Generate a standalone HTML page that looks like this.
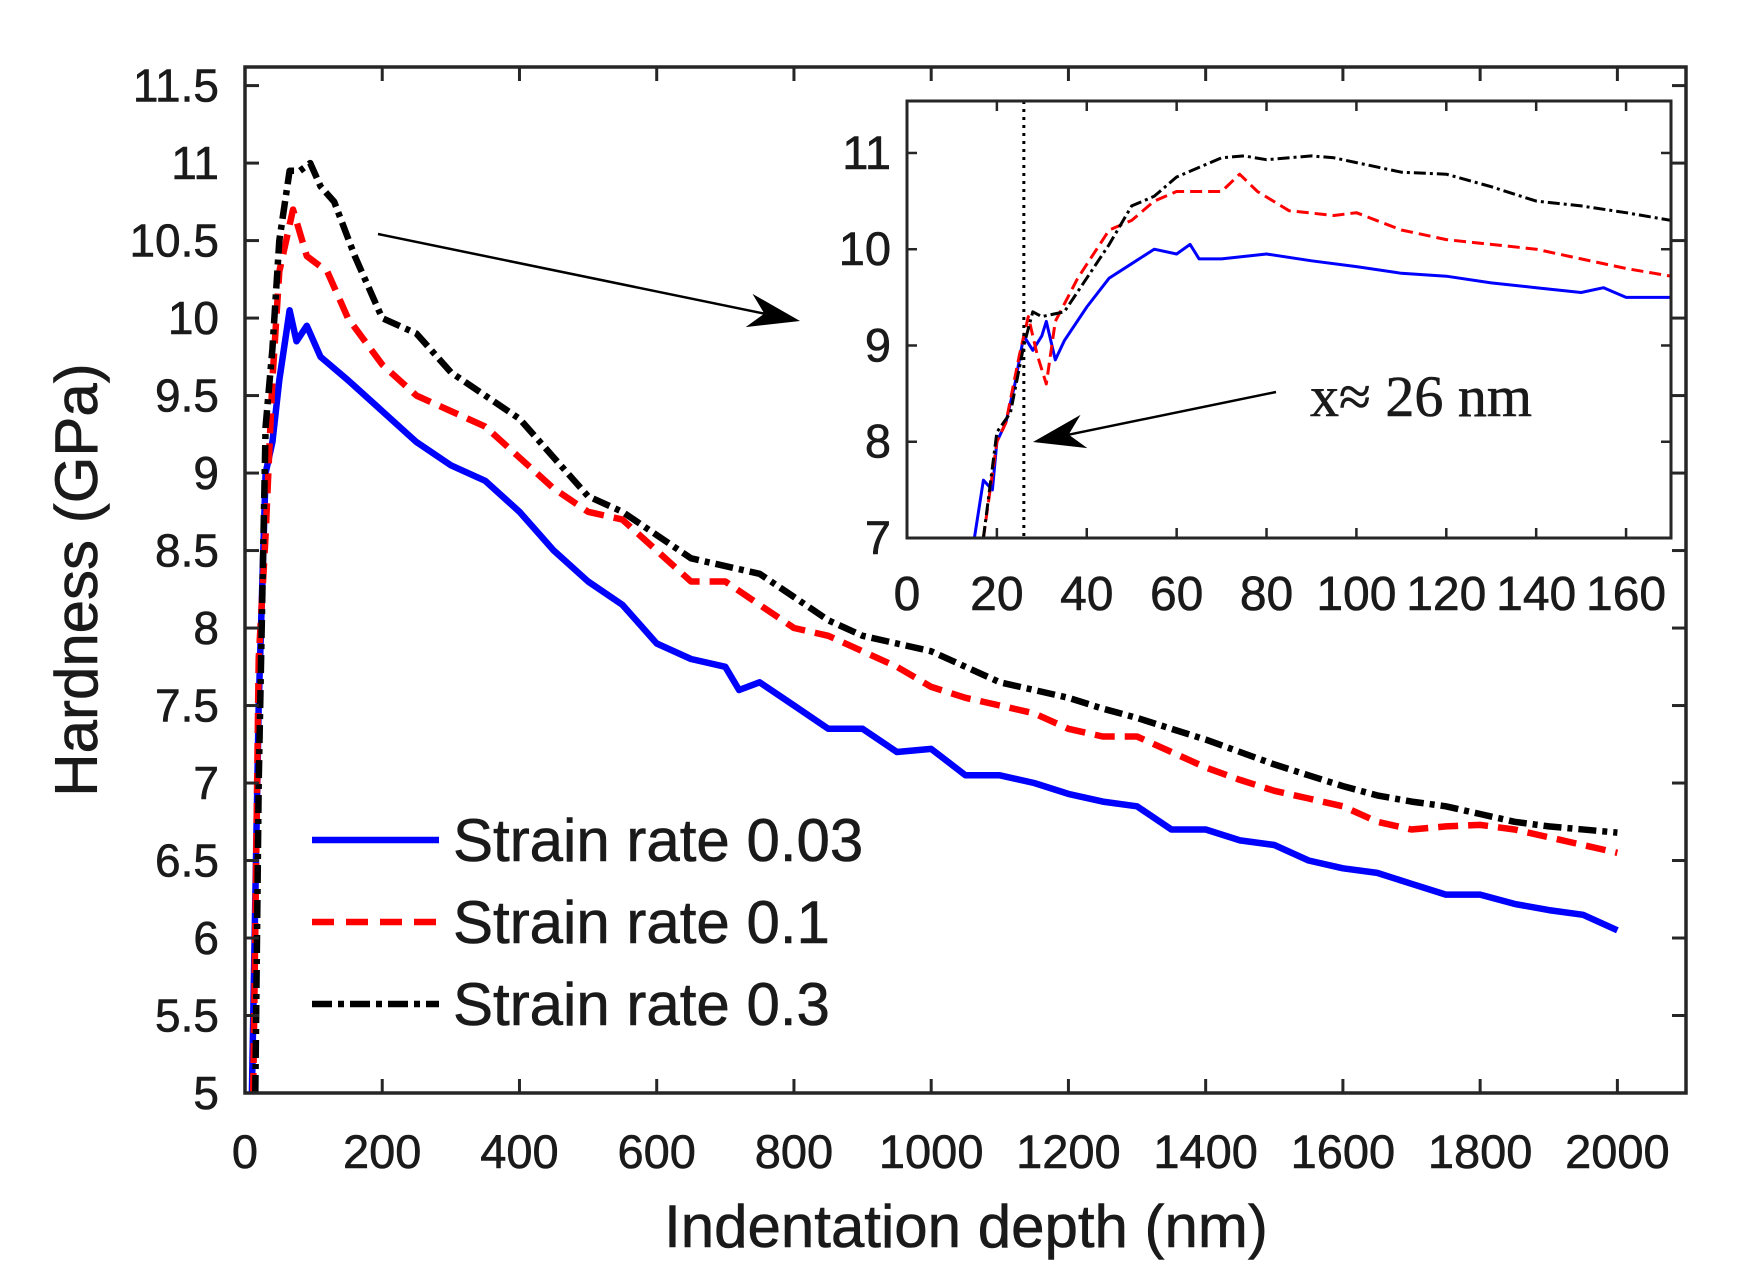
<!DOCTYPE html>
<html><head><meta charset="utf-8"><style>
html,body{margin:0;padding:0;background:#fff}
svg{display:block}
text{font-family:"Liberation Sans",Arial,sans-serif;fill:#1a1a1a;stroke:#1a1a1a;stroke-width:0.6}
</style></head><body>
<svg id="chart" width="1764" height="1279" viewBox="0 0 1764 1279" xmlns="http://www.w3.org/2000/svg">
<g id="main"></g>
<g id="inset"></g>
</svg>
<script>
const mainXTicks=[0,200,400,600,800,1000,1200,1400,1600,1800,2000];
const mainYTicks=[5,5.5,6,6.5,7,7.5,8,8.5,9,9.5,10,10.5,11,11.5];
const mainYTickLabels=["5","5.5","6","6.5","7","7.5","8","8.5","9","9.5","10","10.5","11","11.5"];
const blueX=[10,20,30,40,50,60,65,75,90,110,150,200,250,300,350,400,450,500,550,600,650,700,720,750,800,850,900,950,1000,1050,1100,1150,1200,1250,1300,1350,1400,1450,1500,1550,1600,1650,1700,1750,1800,1850,1900,1950,2000];
const blueY=[5,7.5,9,9.2,9.6,9.9,10.05,9.85,9.95,9.75,9.6,9.4,9.2,9.05,8.95,8.75,8.5,8.3,8.15,7.9,7.8,7.75,7.6,7.65,7.5,7.35,7.35,7.2,7.22,7.05,7.05,7.0,6.93,6.88,6.85,6.7,6.7,6.63,6.6,6.5,6.45,6.42,6.35,6.28,6.28,6.22,6.18,6.15,6.05];
const redX=[12,20,30,40,50,70,90,120,150,200,250,300,350,400,450,500,550,600,650,700,750,800,850,900,950,1000,1050,1100,1150,1200,1250,1300,1350,1400,1450,1500,1550,1600,1650,1700,1750,1800,1850,1900,2000];
const redY=[5,7.8,8.6,9.6,10.3,10.7,10.4,10.3,10.0,9.7,9.5,9.4,9.3,9.1,8.9,8.75,8.7,8.5,8.3,8.3,8.15,8.0,7.95,7.85,7.75,7.62,7.55,7.5,7.45,7.35,7.3,7.3,7.2,7.1,7.02,6.95,6.9,6.85,6.75,6.7,6.72,6.73,6.7,6.65,6.55];
const blackX=[15,20,30,40,50,65,80,95,110,130,160,200,250,300,350,400,450,500,550,600,650,700,750,800,850,900,950,1000,1050,1100,1150,1200,1250,1300,1350,1400,1450,1500,1550,1600,1650,1700,1750,1800,1850,1900,2000];
const blackY=[5,7,9.3,9.8,10.5,10.95,10.95,11.0,10.85,10.75,10.4,10.0,9.9,9.65,9.5,9.35,9.1,8.85,8.75,8.6,8.45,8.4,8.35,8.2,8.05,7.95,7.9,7.85,7.75,7.65,7.6,7.55,7.48,7.42,7.35,7.28,7.2,7.12,7.05,6.98,6.92,6.88,6.85,6.8,6.75,6.72,6.68];
const insetXTicks=[0,20,40,60,80,100,120,140,160];
const insetYTicks=[7,8,9,10,11];
const iBlueX=[15,17,19,20,22,24,26,28,30,31,33,35,40,45,50,55,60,63,65,70,80,90,100,110,120,130,140,150,155,160,170];
const iBlueY=[7,7.6,7.5,8.0,8.2,8.6,9.1,8.95,9.1,9.25,8.85,9.05,9.4,9.7,9.85,10.0,9.95,10.05,9.9,9.9,9.95,9.88,9.82,9.75,9.72,9.65,9.6,9.55,9.6,9.5,9.5];
const iRedX=[17,20,22,25,27,29,31,33,38,45,50,55,60,65,70,74,78,85,95,100,110,120,130,140,150,160,170];
const iRedY=[7,8.0,8.2,8.9,9.3,8.9,8.6,9.25,9.7,10.2,10.3,10.5,10.6,10.6,10.6,10.78,10.6,10.4,10.35,10.38,10.2,10.1,10.05,10.0,9.9,9.8,9.72];
const iBlackX=[17,20,23,26,28,30,35,40,45,50,55,60,65,70,75,80,90,95,100,110,120,130,140,150,160,170];
const iBlackY=[7,8.1,8.3,9.0,9.35,9.3,9.35,9.7,10.05,10.45,10.55,10.75,10.85,10.95,10.97,10.93,10.97,10.95,10.9,10.8,10.78,10.65,10.5,10.45,10.38,10.3];
const markerX=26;

const NS="http://www.w3.org/2000/svg";
function mk(tag,attrs,parent,txt){const e=document.createElementNS(NS,tag);for(const k in attrs)e.setAttribute(k,attrs[k]);if(txt!==undefined)e.textContent=txt;parent.appendChild(e);return e;}

const M={l:245,r:1686,t:67,b:1093,x0:0,x1:2100,y0:5,y1:11.62};
const mx=v=>M.l+(v-M.x0)/(M.x1-M.x0)*(M.r-M.l);
const my=v=>M.b-(v-M.y0)/(M.y1-M.y0)*(M.b-M.t);
const I={l:907,r:1671,t:101,b:538,x0:0,x1:170,y0:7,y1:11.54};
const ix=v=>I.l+(v-I.x0)/(I.x1-I.x0)*(I.r-I.l);
const iy=v=>I.b-(v-I.y0)/(I.y1-I.y0)*(I.b-I.t);
const gM=document.getElementById('main'), gI=document.getElementById('inset');

function path(xs,ys,fx,fy,stroke,w,dash,g,name){
  const d=xs.map((x,i)=>(i?'L':'M')+fx(x).toFixed(1)+','+fy(ys[i]).toFixed(1)).join('');
  const p=mk('path',{d:d,fill:'none',stroke:stroke,'stroke-width':w,'stroke-linejoin':'round'},g);
  if(dash)p.setAttribute('stroke-dasharray',dash);
  
  
}

const defs=mk('defs',{},gM);
const cp=mk('clipPath',{id:'cm'},defs);mk('rect',{x:M.l,y:M.t,width:M.r-M.l,height:M.b-M.t},cp);
const cp2=mk('clipPath',{id:'ci'},defs);mk('rect',{x:I.l,y:I.t,width:I.r-I.l,height:I.b-I.t},cp2);
const sM=mk('g',{'clip-path':'url(#cm)'},gM);
path(blueX,blueY,mx,my,'#0000ff',6.5,null,sM,'series-strain-rate-0.03');
path(redX,redY,mx,my,'#ff0000',6.5,'20,10',sM,'series-strain-rate-0.1');
path(blackX,blackY,mx,my,'#000',6.5,'18,6,5,6',sM,'series-strain-rate-0.3');

const fr=mk('rect',{x:M.l,y:M.t,width:M.r-M.l,height:M.b-M.t,fill:'none',stroke:'#262626','stroke-width':3.5},gM);

mainXTicks.forEach(v=>{const x=mx(v);
  mk('line',{x1:x,y1:M.b,x2:x,y2:M.b-14,stroke:'#262626','stroke-width':3},gM);
  mk('line',{x1:x,y1:M.t,x2:x,y2:M.t+14,stroke:'#262626','stroke-width':3},gM);
  const t=mk('text',{x:x,y:1168,'font-size':47,'text-anchor':'middle'},gM,String(v));
  });
mainYTicks.forEach((v,i)=>{const y=my(v);
  mk('line',{x1:M.l,y1:y,x2:M.l+14,y2:y,stroke:'#262626','stroke-width':3},gM);
  mk('line',{x1:M.r,y1:y,x2:M.r-14,y2:y,stroke:'#262626','stroke-width':3},gM);
  const t=mk('text',{x:219,y:y+16,'font-size':46,'text-anchor':'end'},gM,mainYTickLabels[i]);
  });
const xl=mk('text',{x:966,y:1247,'font-size':60,'text-anchor':'middle'},gM,'Indentation depth (nm)');

const yl=mk('text',{x:0,y:0,'font-size':60,'text-anchor':'middle',transform:'translate(97,580) rotate(-90)'},gM,'Hardness (GPa)');


const leg=[['Strain rate 0.03','#0000ff',null],['Strain rate 0.1','#ff0000','22,12'],['Strain rate 0.3','#000','20,6,6,6']];
leg.forEach((e,i)=>{const y=840+i*82;
  const g=mk('g',{},gM);
  
  const l=mk('line',{x1:312,y1:y,x2:439,y2:y,stroke:e[1],'stroke-width':6.5},g);
  if(e[2])l.setAttribute('stroke-dasharray',e[2]);
  mk('text',{x:453,y:y+21,'font-size':60,fill:'#000'},g,e[0]);});

function arrow(x1,y1,x2,y2,g,name){
  const a=mk('g',{},g);
  
  const ang=Math.atan2(y2-y1,x2-x1),L=52,W=17;
  const bx=x2-L*Math.cos(ang),by=y2-L*Math.sin(ang);
  const nx=-Math.sin(ang),ny=Math.cos(ang);
  const ix2=x2-0.7*L*Math.cos(ang),iy2=y2-0.7*L*Math.sin(ang);
  mk('line',{x1:x1,y1:y1,x2:ix2,y2:iy2,stroke:'#000','stroke-width':2.5},a);
  mk('polygon',{points:`${x2},${y2} ${bx+nx*W},${by+ny*W} ${ix2},${iy2} ${bx-nx*W},${by-ny*W}`,fill:'#000'},a);
}
arrow(378,234,800,321,gM,'zoom-arrow');

mk('rect',{x:I.l,y:I.t,width:I.r-I.l,height:I.b-I.t,fill:'#fff'},gI);
const sI=mk('g',{'clip-path':'url(#ci)'},gI);
path(iBlueX,iBlueY,ix,iy,'#0000ff',3,null,sI,'inset-series-0.03');
path(iRedX,iRedY,ix,iy,'#ff0000',3,'12,6',sI,'inset-series-0.1');
path(iBlackX,iBlackY,ix,iy,'#000',3,'12,4,3,4',sI,'inset-series-0.3');
const dl=mk('line',{x1:ix(markerX),y1:I.t,x2:ix(markerX),y2:I.b,stroke:'#000','stroke-width':3,'stroke-dasharray':'3,5'},gI);

const ifr=mk('rect',{x:I.l,y:I.t,width:I.r-I.l,height:I.b-I.t,fill:'none',stroke:'#262626','stroke-width':3},gI);

insetXTicks.forEach(v=>{const x=ix(v);
  mk('line',{x1:x,y1:I.b,x2:x,y2:I.b-10,stroke:'#262626','stroke-width':2.5},gI);
  mk('line',{x1:x,y1:I.t,x2:x,y2:I.t+10,stroke:'#262626','stroke-width':2.5},gI);
  const t=mk('text',{x:x,y:610,'font-size':48,'text-anchor':'middle'},gI,String(v));
  });
insetYTicks.forEach(v=>{const y=iy(v);
  mk('line',{x1:I.l,y1:y,x2:I.l+10,y2:y,stroke:'#262626','stroke-width':2.5},gI);
  mk('line',{x1:I.r,y1:y,x2:I.r-10,y2:y,stroke:'#262626','stroke-width':2.5},gI);
  const t=mk('text',{x:891,y:y+16,'font-size':47,'text-anchor':'end'},gI,String(v));
  });
arrow(1276,392,1033,442,gI,'critical-depth-arrow');
const an=mk('text',{x:1310,y:416,'font-size':58,fill:'#000'},gI,'x≈ 26 nm');
an.setAttribute('style','font-family:"Liberation Serif",serif');

</script>
</body></html>
